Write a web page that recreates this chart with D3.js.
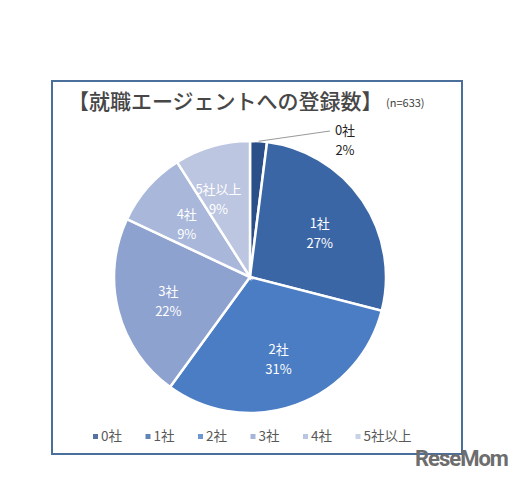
<!DOCTYPE html>
<html><head><meta charset="utf-8">
<script src="https://cdn.jsdelivr.net/npm/d3@7"></script>
<style>body{margin:0;background:#fff;font-family:"Noto Sans CJK JP","Noto Sans",sans-serif;}</style>
</head><body><svg id="c" width="524" height="479"></svg>
<script>
const categories = ["0社","1社","2社","3社","4社","5社以上"];
const values = [2,27,31,22,9,9];
const colors = ["#2b4f88","#3b66a6","#4a7dc3","#8ea2cf","#a8b7da","#bcc6e1"];
const title = "【就職エージェントへの登録数】";
const subtitle = "(n=633)";

const svg = d3.select("#c");
svg.append("rect").attr("x",52).attr("y",81).attr("width",410).attr("height",373)
  .attr("fill","#fff").attr("stroke","#4a6f9a").attr("stroke-width",2);

svg.append("text").attr("x",68).attr("y",109).attr("font-size",21).attr("font-weight",500)
  .attr("fill","#474747").text(title);
svg.append("text").attr("x",386).attr("y",107).attr("font-size",11).attr("fill","#404040").text(subtitle);

const cx=250, cy=277, r=136;
const pie = d3.pie().sort(null).value(d=>d)(values);
const arc = d3.arc().innerRadius(0).outerRadius(r);
const g = svg.append("g").attr("transform",`translate(${cx},${cy})`);
g.selectAll("path").data(pie).join("path").attr("d",arc)
  .attr("fill",(d,i)=>colors[i]).attr("stroke","#fff").attr("stroke-width",2.5);

const labelArc = d3.arc().innerRadius(r*0.62).outerRadius(r*0.62);
pie.forEach((d,i)=>{
  let x,y,fill="#fff";
  if(i===0){
    const p = d3.arc().innerRadius(r).outerRadius(r).centroid(d);
    g.append("line").attr("x1",p[0]).attr("y1",p[1]).attr("x2",80).attr("y2",-146)
      .attr("stroke","#999").attr("stroke-width",1);
    x=95; y=-140; fill="#222";
  } else {
    [x,y]=labelArc.centroid(d);
    if(i===5){x-=8;}
  }
  const t = g.append("text").attr("text-anchor","middle").attr("font-size",13).attr("fill",fill);
  t.append("tspan").attr("x",x).attr("y",y-2).text(categories[i]);
  t.append("tspan").attr("x",x).attr("y",y+18).text(values[i]+"%");
});

const lg = svg.append("g");
categories.forEach((c,i)=>{
  const x = 93 + i*52.5;
  lg.append("rect").attr("x",x).attr("y",434).attr("width",5).attr("height",5).attr("fill",colors[i]).attr("opacity",0.8);
  lg.append("text").attr("x",x+8).attr("y",441).attr("font-size",13.5).attr("fill","#595959").text(c);
});

svg.append("text").attr("x",415).attr("y",466).attr("font-size",22).attr("font-weight","bold")
  .attr("fill","#6d6d6d").attr("font-family","Roboto, sans-serif").attr("letter-spacing",-1).text("ReseMom");
</script></body></html>
